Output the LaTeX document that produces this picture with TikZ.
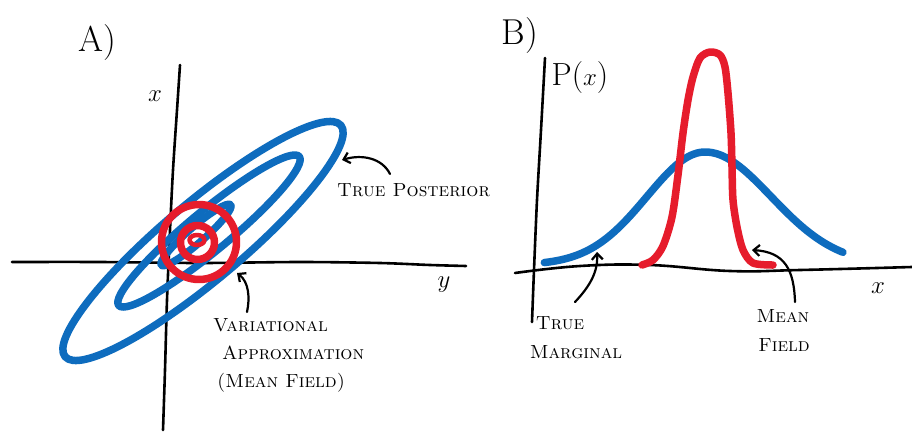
\documentclass[tikz,border=0pt]{standalone}
\usetikzlibrary{arrows.meta}
\definecolor{penblue}{RGB}{14,108,190}
\definecolor{penred}{RGB}{230,28,44}
\begin{document}
\begin{tikzpicture}[x=1pt,y=-1pt,
  axis/.style={line width=2.6pt,line cap=round,line join=round,black},
  bluepen/.style={line width=7.5pt,penblue,line cap=round,line join=round},
  redpen/.style={line width=7.5pt,penred,line cap=round,line join=round},
  pointer/.style={line width=2.2pt,line cap=round,-{Straight Barb[length=6pt,width=11pt,line width=2.2pt]}},
  hand/.style={font=\fontsize{19}{21}\selectfont\scshape,inner sep=0pt},
  big/.style={font=\fontsize{36}{38}\selectfont,inner sep=0pt},
  axlab/.style={font=\fontsize{42}{44}\selectfont,inner sep=0pt}]
\useasboundingbox (0,0) rectangle (912,431);
\fill[white] (0,0) rectangle (912,431);

% ---------- Panel A ----------
\draw[axis] plot[smooth] coordinates {(180,65) (177,110) (173,170) (170,230) (167,300) (165,370) (163,430)};
\draw[axis] plot[smooth] coordinates {(12,262) (100,262) (200,263) (300,262) (380,263) (430,265) (466,266)};

% blue contours (true posterior)
\draw[bluepen,rotate around={40:(203,241)}] (203,241) ellipse [x radius=180,y radius=39];
\draw[bluepen,rotate around={39.5:(209,231)}] (209,231) ellipse [x radius=117,y radius=20];
\draw[bluepen,rotate around={41:(196,235)}] (196,235) ellipse [x radius=46,y radius=8];

% red contours (mean field)
\draw[redpen] (199,242) circle [radius=37.5];
\draw[redpen] (197.5,242.5) circle [radius=17];
\draw[redpen,line width=4.5pt] (197,240) ellipse [x radius=7.5,y radius=5];

\node[big] (labA) at (97,43) {A)};
\node[axlab] (axXA) at (155,96) {$x$};
\node[axlab] (axYA) at (444,285) {$y$};

\node[hand,anchor=west] (tpost) at (337,190) {True Posterior};
\coordinate (tpTail) at (390,174);
\coordinate (tpTip) at (342,160);
\draw[pointer] (tpTail) .. controls (382,158) and (362,154) .. (tpTip);

\node[hand,anchor=west] (var1) at (213,325) {Variational};
\node[hand,anchor=west] (var2) at (222,353) {Approximation};
\node[hand,anchor=west] (var3) at (217,383) {(Mean Field)};
\coordinate (vaTail) at (247,312);
\coordinate (vaTip) at (237,273);
\draw[pointer] (vaTail) .. controls (250,298) and (249,282) .. (vaTip);

% ---------- Panel B ----------
\draw[axis] plot[smooth] coordinates {(545,58) (541,130) (537,200) (534,270) (532,322)};
\draw[axis] plot[smooth,tension=0.7] coordinates {(515,273) (580,266) (650,265) (730,271) (800,270) (912,267)};

\draw[bluepen] plot[domain=-2.77:0,samples=40] ({705+58*\x},{265-113*exp(-0.5*\x*\x)})
  -- plot[domain=0:2.09,samples=40] ({705+66*\x},{265-113*exp(-0.5*\x*\x)});

\draw[redpen] plot[smooth,tension=0.5] coordinates {(642,265) (653,260) (663,246) (672,217) (678,175) (683,133) (688,100) (693,77) (700,58) (710,52) (720,55) (725,67) (728,93) (731,133) (732,167) (733,200) (737,227) (743,250) (753,263) (773,265)};

\node[big] (labB) at (520,36) {B)};
\node[font=\fontsize{32}{34}\selectfont,inner sep=0pt] (pxlab) at (580,78) {P($x$)};
\node[axlab] (axXB) at (878,288) {$x$};

\node[hand] (tm1) at (560,323) {True};
\node[hand] (tm2) at (576,352) {Marginal};
\coordinate (tmTail) at (575,302);
\coordinate (tmTip) at (597,252);
\draw[pointer] (tmTail) .. controls (590,286) and (598,272) .. (tmTip);

\node[hand] (mf1) at (783,316) {Mean};
\node[hand] (mf2) at (784,345) {Field};
\coordinate (mfTail) at (795,302);
\coordinate (mfTip) at (752,250);
\draw[pointer] (mfTail) .. controls (794,270) and (785,252) .. (mfTip);
\end{tikzpicture}
\end{document}
